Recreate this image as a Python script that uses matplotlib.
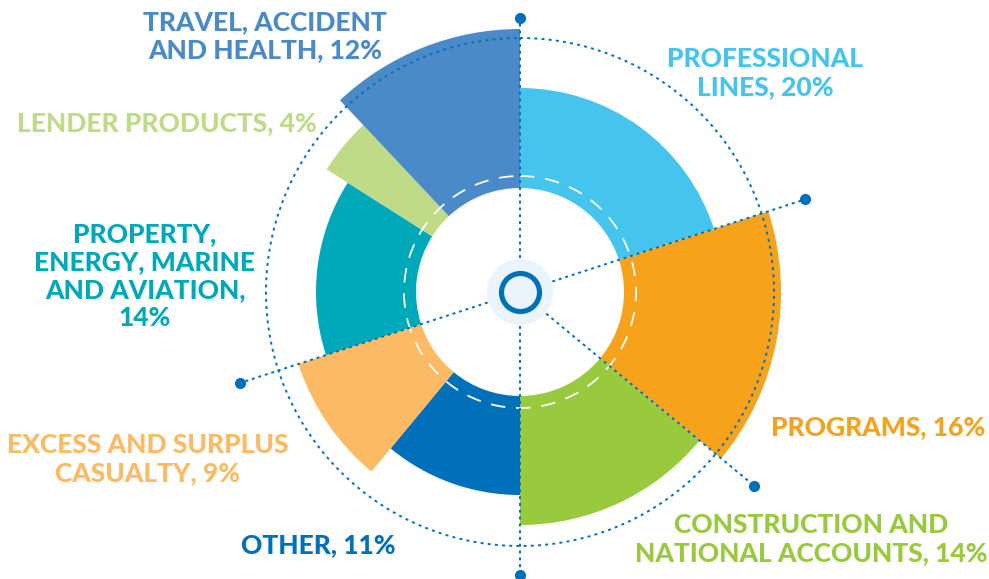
import numpy as np
import matplotlib
matplotlib.use("Agg")
import matplotlib.pyplot as plt

# segments clockwise from 12 o'clock
labels = ["PROFESSIONAL\nLINES, 20%", "PROGRAMS, 16%", "CONSTRUCTION AND\nNATIONAL ACCOUNTS, 14%",
          "OTHER, 11%", "EXCESS AND SURPLUS\nCASUALTY, 9%", "PROPERTY,\nENERGY, MARINE\nAND AVIATION,\n14%",
          "LENDER PRODUCTS, 4%", "TRAVEL, ACCIDENT\nAND HEALTH, 12%"]
shares = [20, 16, 14, 11, 9, 14, 4, 12]
outer_r = [204, 261, 233, 203, 233, 204, 229, 263]
colors = ["#45C5EE", "#F7A21B", "#99C93C", "#0070BA", "#FBBA63", "#00A9B9", "#C0DB87", "#4A8AC8"]
inner_r = 104

# label anchor (pixel x, y from top) for each segment
label_xy = [(765, 73), (878, 427), (811, 539), (318, 545), (148, 459), (145, 276), (167, 123), (265, 36)]

# dotted spokes: angle from top (deg) and radius of the end dot
spokes = [(0, 274), (72, 300), (129.6, 304), (180, 283), (252, 294)]

W, H = 989, 579
cx, cy = 520, 292
R = 320
fig = plt.figure(figsize=(W / 100, H / 100), dpi=100)
ax = fig.add_axes([(cx - R) / W, (H - cy - R) / H, 2 * R / W, 2 * R / H], projection="polar")
ax.set_theta_zero_location("N")
ax.set_theta_direction(-1)
ax.set_ylim(0, R)
ax.set_axis_off()

widths = np.array(shares) / 100 * 2 * np.pi
starts = np.concatenate([[0], np.cumsum(widths)[:-1]])
heights = np.array(outer_r) - inner_r
ax.bar(starts, heights, width=widths, bottom=inner_r, color=colors, align="edge",
       edgecolor="none", zorder=1)

t = np.linspace(0, 2 * np.pi, 721)
# white dashed circle inside the ring
ax.plot(t, np.full_like(t, 116), color="white", lw=1.3, ls=(0, (8, 6)), zorder=3)
# blue dotted circle
ax.plot(t, np.full_like(t, 254), color="#0070BA", lw=1.4, ls=(0, (1.5, 2.2)), zorder=3)

for deg, rdot in spokes:
    th = np.deg2rad(deg)
    ax.plot([th, th], [34, rdot], color="#0070BA", lw=1.4, ls=(0, (1.5, 2.0)), zorder=3,
            clip_on=False)
    ax.plot([th], [rdot], "o", color="#0070BA", ms=7, zorder=4, clip_on=False)

# center marker (sizes in points: 1 px = 0.72 pt)
ax.scatter([0], [0], s=(66 * 0.72) ** 2, color="#EAF4FC", zorder=4, edgecolors="none")
ax.scatter([0], [0], s=(38 * 0.72) ** 2, facecolors="#EAF4FC", edgecolors="#0070BA",
           linewidths=3.7, zorder=5)

for lab, (x, y), c in zip(labels, label_xy, colors):
    fig.text(x / W, 1 - y / H, lab, color=c, ha="center", va="center", fontsize=19,
             fontfamily="Lato", fontweight=900, linespacing=1.2)

fig.savefig("out.png", dpi=100)
